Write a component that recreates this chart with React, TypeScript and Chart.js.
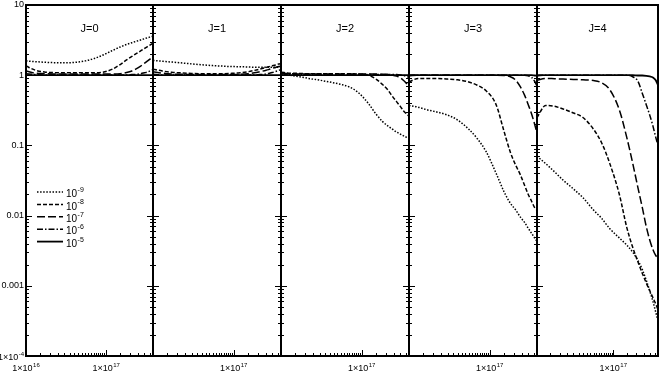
import React, { useEffect, useRef } from "react";
import { Chart, registerables } from "chart.js";

Chart.register(...registerables);

// ---------------- data ----------------
const xValues = [1e16, 1.3e16, 1.7e16, 2.2e16, 3e16, 4e16, 5.5e16, 7e16, 9e16, 1.2e17, 1.5e17, 1.8e17, 2.1e17, 2.4e17, 2.7e17, 3e17, 3.3e17, 3.6e17, 3.85e17];

const panelTitles = ["J=0", "J=1", "J=2", "J=3", "J=4"];
const seriesNames = ["10⁻⁹", "10⁻⁸", "10⁻⁷", "10⁻⁶", "10⁻⁵"];
const seriesExponents = ["-9", "-8", "-7", "-6", "-5"];

const yTickValues = [10, 1, 0.1, 0.01, 0.001, 0.0001];
const yTickBases = ["10", "1", "0.1", "0.01", "0.001", "1×10"];
const yTickSups = ["", "", "", "", "", "-4"];
const xTickValuesFirst = [1e16, 1e17];
const xTickBasesFirst = ["1×10", "1×10"];
const xTickSupsFirst = ["16", "17"];
const xTickValuesOther = [1e17];
const xTickBasesOther = ["1×10"];
const xTickSupsOther = ["17"];

// J=0
const j0_e9 = [1.6, 1.56, 1.53, 1.51, 1.5, 1.52, 1.6, 1.72, 1.92, 2.25, 2.52, 2.74, 2.9, 3.05, 3.18, 3.3, 3.42, 3.52, 3.6];
const j0_e8 = [1.35, 1.18, 1.11, 1.09, 1.08, 1.08, 1.08, 1.08, 1.1, 1.22, 1.42, 1.65, 1.85, 2.04, 2.22, 2.4, 2.56, 2.72, 2.85];
const j0_e7 = [1.15, 1.07, 1.05, 1.04, 1.04, 1.04, 1.04, 1.04, 1.04, 1.04, 1.05, 1.09, 1.15, 1.24, 1.35, 1.47, 1.6, 1.73, 1.85];
const j0_e6 = [1.05, 1.02, 1.01, 1.01, 1.01, 1.01, 1.01, 1.01, 1.01, 1.01, 1.01, 1.01, 1.02, 1.03, 1.05, 1.08, 1.11, 1.16, 1.2];
const j0_e5 = [1.0, 1.0, 1.0, 1.0, 1.0, 1.0, 1.0, 1.0, 1.0, 1.0, 1.0, 1.0, 1.0, 1.0, 1.0, 1.0, 1.0, 1.0, 1.0];

// J=1
const j1_e9 = [1.62, 1.58, 1.54, 1.5, 1.45, 1.41, 1.37, 1.35, 1.33, 1.32, 1.31, 1.3, 1.3, 1.3, 1.3, 1.3, 1.3, 1.3, 1.3];
const j1_e8 = [1.22, 1.15, 1.1, 1.08, 1.06, 1.05, 1.05, 1.05, 1.06, 1.08, 1.12, 1.17, 1.22, 1.27, 1.32, 1.36, 1.4, 1.44, 1.46];
const j1_e7 = [1.12, 1.07, 1.04, 1.03, 1.02, 1.02, 1.02, 1.02, 1.02, 1.03, 1.05, 1.08, 1.12, 1.16, 1.2, 1.25, 1.29, 1.33, 1.35];
const j1_e6 = [1.03, 1.01, 1.01, 1.01, 1.01, 1.01, 1.01, 1.01, 1.01, 1.01, 1.01, 1.01, 1.02, 1.03, 1.06, 1.09, 1.13, 1.17, 1.2];
const j1_e5 = [1.0, 1.0, 1.0, 1.0, 1.0, 1.0, 1.0, 1.0, 1.0, 1.0, 1.0, 1.0, 1.0, 1.0, 1.0, 1.0, 1.0, 1.0, 1.0];

// J=2
const j2_e9 = [1.05, 1.0, 0.95, 0.9, 0.85, 0.8, 0.74, 0.68, 0.57, 0.4, 0.28, 0.22, 0.19, 0.17, 0.155, 0.145, 0.137, 0.13, 0.125];
const j2_e8 = [1.1, 1.07, 1.06, 1.05, 1.05, 1.05, 1.05, 1.05, 1.04, 1.0, 0.88, 0.74, 0.62, 0.5, 0.42, 0.36, 0.31, 0.28, 0.26];
const j2_e7 = [1.08, 1.05, 1.04, 1.04, 1.04, 1.04, 1.04, 1.04, 1.04, 1.04, 1.04, 1.03, 1.02, 1.0, 0.97, 0.92, 0.84, 0.76, 0.7];
const j2_e6 = [1.04, 1.03, 1.02, 1.02, 1.02, 1.02, 1.02, 1.02, 1.02, 1.02, 1.02, 1.02, 1.02, 1.02, 1.02, 1.01, 0.99, 0.96, 0.93];
const j2_e5 = [1.0, 1.0, 1.0, 1.0, 1.0, 1.0, 1.0, 1.0, 1.0, 1.0, 1.0, 1.0, 1.0, 1.0, 1.0, 1.0, 1.0, 1.0, 1.0];

// J=3
const j3_e9 = [0.37, 0.35, 0.32, 0.3, 0.27, 0.23, 0.17, 0.125, 0.082, 0.04, 0.022, 0.015, 0.012, 0.0095, 0.008, 0.0066, 0.0056, 0.0048, 0.0043];
const j3_e8 = [0.8, 0.9, 0.9, 0.9, 0.88, 0.86, 0.8, 0.72, 0.6, 0.38, 0.16, 0.08, 0.052, 0.038, 0.027, 0.02, 0.016, 0.013, 0.012];
const j3_e7 = [0.98, 1.0, 1.0, 1.0, 1.0, 1.0, 1.0, 1.0, 1.0, 1.0, 0.99, 0.95, 0.85, 0.68, 0.52, 0.38, 0.28, 0.2, 0.15];
const j3_e6 = [1.0, 1.0, 1.0, 1.0, 1.0, 1.0, 1.0, 1.0, 1.0, 1.0, 1.0, 1.0, 1.0, 1.0, 1.0, 0.98, 0.93, 0.82, 0.7];
const j3_e5 = [1.0, 1.0, 1.0, 1.0, 1.0, 1.0, 1.0, 1.0, 1.0, 1.0, 1.0, 1.0, 1.0, 1.0, 1.0, 1.0, 1.0, 0.99, 0.98];

// J=4
const j4_e9 = [0.07, 0.055, 0.042, 0.032, 0.024, 0.018, 0.012, 0.0092, 0.0065, 0.0048, 0.0038, 0.003, 0.0023, 0.0017, 0.0012, 0.00085, 0.0006, 0.00042, 0.00032];
const j4_e8 = [0.25, 0.37, 0.36, 0.33, 0.29, 0.25, 0.17, 0.11, 0.055, 0.02, 0.0068, 0.0035, 0.0022, 0.0015, 0.0011, 0.00085, 0.00068, 0.00055, 0.00046];
const j4_e7 = [0.85, 0.9, 0.89, 0.88, 0.87, 0.86, 0.84, 0.78, 0.62, 0.32, 0.13, 0.055, 0.025, 0.013, 0.007, 0.0045, 0.0033, 0.0027, 0.0025];
const j4_e6 = [0.98, 1.0, 1.0, 1.0, 1.0, 1.0, 1.0, 1.0, 1.0, 1.0, 1.0, 0.95, 0.82, 0.55, 0.38, 0.27, 0.19, 0.13, 0.1];
const j4_e5 = [1.0, 1.0, 1.0, 1.0, 1.0, 1.0, 1.0, 1.0, 1.0, 1.0, 1.0, 1.0, 0.99, 0.99, 0.98, 0.96, 0.93, 0.85, 0.72];

const panelSeries = [
  [j0_e9, j0_e8, j0_e7, j0_e6, j0_e5],
  [j1_e9, j1_e8, j1_e7, j1_e6, j1_e5],
  [j2_e9, j2_e8, j2_e7, j2_e6, j2_e5],
  [j3_e9, j3_e8, j3_e7, j3_e6, j3_e5],
  [j4_e9, j4_e8, j4_e7, j4_e6, j4_e5],
];

// ---------------- layout & style ----------------
const W = 664;
const H = 383;
const PANEL_LEFT = [26, 153, 281, 409, 537];
const PANEL_RIGHT = [153, 281, 409, 537, 658];
const PLOT_TOP = 5;
const PLOT_BOTTOM = 356;
const X_MIN = 1e16;
const X_MAX = 3.85e17;
const Y_MIN = 1e-4;
const Y_MAX = 10;
const FONT = '"Liberation Sans", Arial, Helvetica, sans-serif';

const LINE_STYLES = [
  { dash: [1.5, 1.6], width: 1.5 },
  { dash: [4, 2], width: 1.5 },
  { dash: [8, 3], width: 1.5 },
  { dash: [6, 2, 1.5, 2], width: 1.5 },
  { dash: [], width: 1.8 },
];

// draw "base" with a raised superscript; align: 'left' | 'right' | 'center'
function drawSup(ctx: any, base: string, sup: string, x: number, y: number, align: string, size: number) {
  ctx.textBaseline = "middle";
  ctx.textAlign = "left";
  ctx.font = `${size}px ${FONT}`;
  const wb = ctx.measureText(base).width;
  const supSize = Math.round(size * 0.72);
  ctx.font = `${supSize}px ${FONT}`;
  const ws = sup ? ctx.measureText(sup).width + 0.5 : 0;
  const total = wb + ws;
  let left = x;
  if (align === "right") left = x - total;
  else if (align === "center") left = x - total / 2;
  ctx.font = `${size}px ${FONT}`;
  ctx.fillText(base, left, y);
  if (sup) {
    ctx.font = `${supSize}px ${FONT}`;
    ctx.fillText(sup, left + wb + 0.5, y - size * 0.45);
  }
}

const framePlugin = {
  id: "frame",
  afterDatasetsDraw(chart: any, _args: any, opts: any) {
    const { ctx, chartArea: a, scales } = chart;
    const xs = scales.x;
    const ys = scales.y;
    ctx.save();
    ctx.strokeStyle = "#000";
    ctx.fillStyle = "#000";
    ctx.setLineDash([]);
    ctx.lineWidth = 1;
    // y ticks (inward)
    for (let d = -4; d <= 1; d++) {
      const base = Math.pow(10, d);
      const ks = d === 1 ? [1] : [1, 2, 3, 4, 5, 6, 7, 8, 9];
      for (const k of ks) {
        const v = k * base;
        if (v < Y_MIN * 0.999 || v > Y_MAX * 1.001) continue;
        const py = Math.round(ys.getPixelForValue(v)) + 0.5;
        const len = k === 1 ? 6 : 3;
        ctx.beginPath();
        ctx.moveTo(a.left, py);
        ctx.lineTo(a.left + len, py);
        if (!opts.last) {
          ctx.moveTo(a.right, py);
          ctx.lineTo(a.right - len, py);
        }
        ctx.stroke();
      }
    }
    // x ticks (inward from bottom)
    for (let d = 16; d <= 17; d++) {
      const base = Math.pow(10, d);
      for (let k = 1; k < 10; k += 0.5) {
        const v = k * base;
        if (v < X_MIN * 0.999 || v > X_MAX * 1.001) continue;
        const px = Math.round(xs.getPixelForValue(v)) + 0.5;
        const len = k === 1 ? 6 : 3;
        ctx.beginPath();
        ctx.moveTo(px, a.bottom);
        ctx.lineTo(px, a.bottom - len);
        ctx.stroke();
      }
    }
    // frame
    ctx.lineWidth = 2;
    ctx.strokeRect(a.left, a.top, a.right - a.left, a.bottom - a.top);
    // tick labels
    const xt = opts.first ? xTickValuesFirst : xTickValuesOther;
    const xb = opts.first ? xTickBasesFirst : xTickBasesOther;
    const xsu = opts.first ? xTickSupsFirst : xTickSupsOther;
    xt.forEach((v: number, i: number) => {
      drawSup(ctx, xb[i], xsu[i], xs.getPixelForValue(v), a.bottom + 13, "center", 9);
    });
    if (opts.first) {
      yTickValues.forEach((v, i) => {
        drawSup(ctx, yTickBases[i], yTickSups[i], a.left - 2, ys.getPixelForValue(v) + (i === yTickValues.length - 1 ? 2 : 0), "right", 9);
      });
    }
    // title
    ctx.font = `11px ${FONT}`;
    ctx.textAlign = "center";
    ctx.textBaseline = "middle";
    ctx.fillText(opts.title, (a.left + a.right) / 2, a.top + 24);
    // legend
    if (opts.first) {
      const x0 = a.left + 11;
      const x1 = a.left + 37;
      const y0 = 192;
      const dy = 12.4;
      chart.data.datasets.forEach((ds: any, k: number) => {
        const y = y0 + k * dy;
        ctx.setLineDash(ds.borderDash || []);
        ctx.lineWidth = ds.borderWidth;
        ctx.beginPath();
        ctx.moveTo(x0, y);
        ctx.lineTo(x1, y);
        ctx.stroke();
        ctx.setLineDash([]);
        drawSup(ctx, "10", seriesExponents[k], x1 + 3, y + 2.5, "left", 10);
      });
    }
    ctx.restore();
  },
};

function Panel({ index }: { index: number }) {
  const ref = useRef<HTMLCanvasElement | null>(null);
  useEffect(() => {
    if (!ref.current) return;
    const first = index === 0;
    const chart = new Chart(ref.current, {
      type: "line",
      data: {
        datasets: panelSeries[index].map((vals, k) => ({
          label: seriesNames[k],
          data: xValues.map((x, n) => ({ x, y: vals[n] })),
          borderColor: "#000",
          backgroundColor: "#000",
          borderWidth: LINE_STYLES[k].width,
          borderDash: LINE_STYLES[k].dash,
          pointRadius: 0,
          cubicInterpolationMode: "monotone",
          fill: false,
        })),
      },
      options: {
        responsive: false,
        animation: false,
        events: [],
        layout: {
          padding: {
            left: first ? 0 : PANEL_LEFT[index],
            right: W - PANEL_RIGHT[index],
            top: PLOT_TOP,
            bottom: 0,
          },
        },
        plugins: {
          legend: { display: false },
          tooltip: { enabled: false },
          frame: { title: panelTitles[index], first, last: index === panelTitles.length - 1 },
        } as any,
        scales: {
          x: {
            type: "logarithmic",
            min: X_MIN,
            max: X_MAX,
            grid: { display: false, drawTicks: false },
            border: { display: false },
            ticks: { display: false },
            afterFit: (s: any) => {
              s.height = H - PLOT_BOTTOM;
            },
          },
          y: {
            type: "logarithmic",
            min: Y_MIN,
            max: Y_MAX,
            grid: { display: false, drawTicks: false },
            border: { display: false },
            ticks: { display: false },
            afterFit: (s: any) => {
              s.width = first ? PANEL_LEFT[0] : 0;
            },
          },
        },
      } as any,
      plugins: [framePlugin],
    });
    return () => chart.destroy();
  }, [index]);
  return (
    <canvas
      ref={ref}
      width={W}
      height={H}
      style={{ position: "absolute", left: 0, top: 0, width: W, height: H }}
    />
  );
}

export default function App() {
  return (
    <div
      style={{
        position: "fixed",
        left: 0,
        top: 0,
        width: W,
        height: H,
        background: "#fff",
      }}
    >
      {panelTitles.map((_, i) => (
        <Panel key={i} index={i} />
      ))}
    </div>
  );
}
